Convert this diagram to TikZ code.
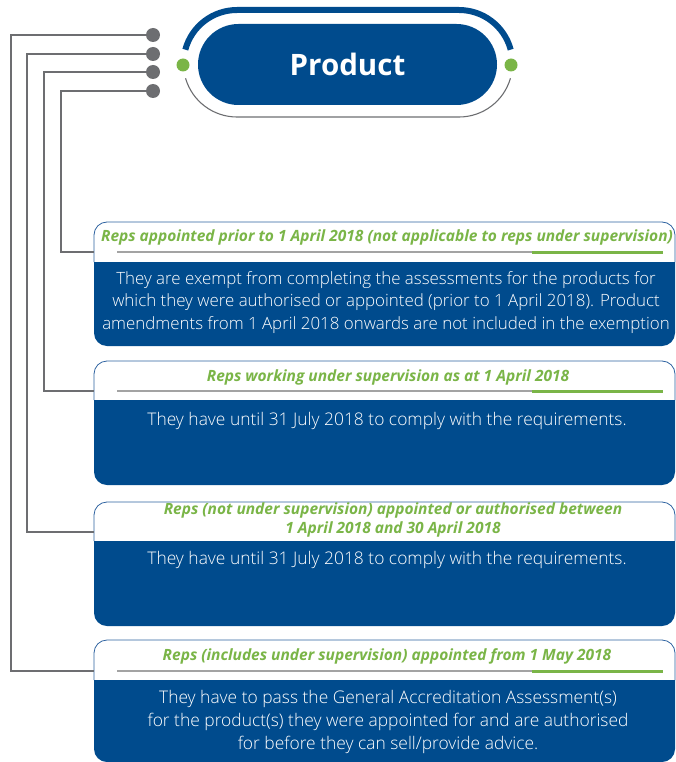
\documentclass[tikz,border=0pt]{standalone}
\usepackage{fontspec}
\setmainfont{Open Sans}
\IfFontExistsTF{Open Sans Light}
  {\newfontfamily\thinsans{Open Sans Light}}
  {\newfontfamily\thinsans{Open Sans}}
\usetikzlibrary{shapes.misc}

\definecolor{navy}{HTML}{004B8D}
\definecolor{leaf}{HTML}{7AB547}
\definecolor{wire}{HTML}{6D6E71}
\definecolor{rule}{HTML}{A3A3A3}
\definecolor{rim}{HTML}{2D62A0}

% card outline: #1 top, #2 header/body split, #3 bottom
\newcommand\cardframe[3]{%
  \draw[rim, line width=0.8pt, fill=white]
    (94,#2) -- (94,#1+13) arc[start angle=180, end angle=270, radius=13]
    -- (662,#1) arc[start angle=270, end angle=360, radius=13] -- (675,#2);
  \fill[navy]
    (94,#2) -- (94,#3-13) arc[start angle=180, end angle=90, radius=13]
    -- (662,#3) arc[start angle=90, end angle=0, radius=13] -- (675,#2) -- cycle;}

% grey/green rule under a card title
\newcommand\titlerule[1]{%
  \draw[rule, line width=1.5pt] (117,#1) -- (532,#1);
  \draw[leaf, line width=3pt] (532,#1) -- (663,#1);}

\begin{document}
\begin{tikzpicture}[x=1pt, y=-1pt,
  greydot/.style={circle, fill=wire, inner sep=0pt, minimum size=14pt},
  greendot/.style={circle, fill=leaf, inner sep=0pt, minimum size=13pt},
  wireline/.style={draw=wire, line width=1.5pt},
  title/.style={text=leaf, font=\bfseries\itshape\fontsize{15.5}{19}\selectfont, align=center, inner sep=0pt},
  bodytext/.style={text=white, font=\thinsans\fontsize{17.4}{23}\selectfont, align=center, inner sep=0pt}]

\useasboundingbox (0,0) rectangle (675,762);

% ring around the product pill
\draw[navy, line width=6pt]
  (237,63.5) ++(195:53.5) arc[start angle=195, end angle=270, radius=53.5]
  -- (459,10) arc[start angle=270, end angle=345, radius=53.5];
\draw[wire, line width=1.1pt]
  (237,63.5) ++(164:53.5) arc[start angle=164, end angle=90, radius=53.5]
  -- (459,117) arc[start angle=90, end angle=16, radius=53.5];

\node[rounded rectangle, fill=navy, minimum width=299pt, minimum height=81pt,
      inner sep=0pt, text=white, font=\bfseries\fontsize{29.5}{31}\selectfont]
      (prod) at (347.5,64.5) {Product};

\node[greendot] (gl) at (183,65) {};
\node[greendot] (gr) at (511,65) {};

% cards
\cardframe{222}{262}{346}
\titlerule{252}
\cardframe{361}{400}{485}
\titlerule{391}
\cardframe{502}{541}{626}
\cardframe{640}{680}{762}
\titlerule{671}

\node[title] (h1) at (387,237) {Reps appointed prior to 1 April 2018 (not applicable to reps under supervision)};
\node[bodytext, font=\thinsans\fontsize{16.9}{22.5}\selectfont] (b1) at (386,302.5) {They are exempt from completing the assessments for the products for\\which they were authorised or appointed (prior to 1 April 2018). Product\\amendments from 1 April 2018 onwards are not included in the exemption};

\node[title] (h2) at (388,377) {Reps working under supervision as at 1 April 2018};
\node[bodytext] (b2) at (387,420.5) {They have until 31 July 2018 to comply with the requirements.};

\node[title] (h3) at (393,520) {Reps (not under supervision) appointed or authorised between\\1 April 2018 and 30 April 2018};
\node[bodytext] (b3) at (387,559.5) {They have until 31 July 2018 to comply with the requirements.};

\node[title] (h4) at (387,656) {Reps (includes under supervision) appointed from 1 May 2018};
\node[bodytext] (b4) at (388,721.5) {They have to pass the General Accreditation Assessment(s)\\for the product(s) they were appointed for and are authorised\\for before they can sell/provide advice.};

% connector dots and their routes to the cards
\node[greydot] (g1) at (153,35) {};
\node[greydot] (g2) at (153,54) {};
\node[greydot] (g3) at (153,72) {};
\node[greydot] (g4) at (153,91) {};

\coordinate (k1) at (11,35);
\coordinate (k2) at (27,54);
\coordinate (k3) at (44,72);
\coordinate (k4) at (61,91);

\coordinate (e1) at (94,252);
\coordinate (e2) at (94,391);
\coordinate (e3) at (94,532);
\coordinate (e4) at (94,671);

\draw[wireline] (g1) -- (k1) |- (e4);
\draw[wireline] (g2) -- (k2) |- (e3);
\draw[wireline] (g3) -- (k3) |- (e2);
\draw[wireline] (g4) -- (k4) |- (e1);
\end{tikzpicture}
\end{document}
